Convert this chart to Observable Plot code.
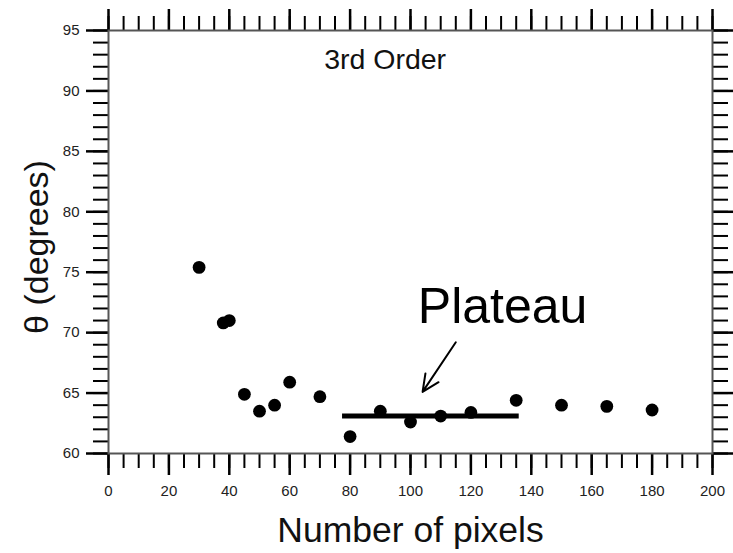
<!DOCTYPE html>
<html>
<head>
<meta charset="utf-8">
<script src="https://cdn.jsdelivr.net/npm/d3@7"></script>
<script src="https://cdn.jsdelivr.net/npm/@observablehq/plot@0.6"></script>
<style>
  html, body { margin: 0; padding: 0; background: #fff; }
  svg { font-family: "Liberation Sans", Arial, sans-serif; }
</style>
</head>
<body>
<div id="chart"></div>
<script>
// Data
const pixels = [30, 38, 40, 45, 50, 55, 60, 70, 80, 90, 100, 110, 120, 135, 150, 165, 180];
const theta  = [75.4, 70.8, 71.0, 64.9, 63.5, 64.0, 65.9, 64.7, 61.4, 63.5, 62.6, 63.1, 63.4, 64.4, 64.0, 63.9, 63.6];

const plateauX = [77.5, 136];
const plateauY = 63.1;
const arrowFrom = [115, 69.2];
const arrowTo = [104, 65.1];

const xMajor = d3.range(0, 201, 20);
const xMinor = d3.range(0, 201, 5);
const yMajor = d3.range(60, 96, 5);
const yMinor = d3.range(60, 96, 1);

const titleText = "3rd Order";
const plateauText = "Plateau";
const xTitle = "Number of pixels";
const yTitle = "θ (degrees)";

const points = pixels.map((p, i) => ({x: p, y: theta[i]}));

const chart = Plot.plot({
  width: 733,
  height: 553,
  marginLeft: 108,
  marginRight: 21,
  marginTop: 30,
  marginBottom: 100,
  style: {fontFamily: "Liberation Sans, Arial, sans-serif", background: "#fff", color: "#000", overflow: "visible"},
  x: {domain: [0, 200]},
  y: {domain: [60, 95]},
  marks: [
    // bottom ticks
    Plot.axisX({anchor: "bottom", ticks: xMinor, tickSize: 15, text: null, strokeWidth: 2, label: null}),
    Plot.axisX({anchor: "bottom", ticks: xMajor, tickSize: 22, text: null, strokeWidth: 2.5, label: null}),
    Plot.axisX({anchor: "bottom", ticks: xMajor, tickSize: 0, tickPadding: 32, fontSize: 15, label: null, fill: "#222"}),
    // top ticks
    Plot.axisX({anchor: "top", ticks: xMinor, tickSize: 15, text: null, strokeWidth: 2, label: null}),
    Plot.axisX({anchor: "top", ticks: xMajor, tickSize: 22, text: null, strokeWidth: 2.5, label: null}),
    // left ticks
    Plot.axisY({anchor: "left", ticks: yMinor, tickSize: 15, text: null, strokeWidth: 2, label: null}),
    Plot.axisY({anchor: "left", ticks: yMajor, tickSize: 22, text: null, strokeWidth: 2.5, label: null}),
    Plot.axisY({anchor: "left", ticks: yMajor, tickSize: 0, tickPadding: 29, fontSize: 15, label: null, fill: "#222"}),
    // right ticks
    Plot.axisY({anchor: "right", ticks: yMinor, tickSize: 15, text: null, strokeWidth: 2, label: null}),
    Plot.axisY({anchor: "right", ticks: yMajor, tickSize: 22, text: null, strokeWidth: 2.5, label: null}),
    Plot.frame({stroke: "#555", strokeWidth: 2}),
    // data
    Plot.dot(points, {x: "x", y: "y", r: 6.4, fill: "#000", stroke: null}),
    Plot.ruleY([plateauY], {x1: plateauX[0], x2: plateauX[1], stroke: "#000", strokeWidth: 5}),
    Plot.arrow([{x1: arrowFrom[0], y1: arrowFrom[1], x2: arrowTo[0], y2: arrowTo[1]}],
      {x1: "x1", y1: "y1", x2: "x2", y2: "y2", stroke: "#000", strokeWidth: 2, headLength: 14, headAngle: 50}),
    // texts
    Plot.text([titleText], {x: 91.6, y: 92.6, text: d => d, fontSize: 28.5, fill: "#111", textAnchor: "middle", lineAnchor: "middle"}),
    Plot.text([plateauText], {x: 130.5, y: 72.1, text: d => d, fontSize: 50, fill: "#000", textAnchor: "middle", lineAnchor: "middle"}),
    Plot.text([xTitle], {frameAnchor: "bottom", dy: 77, text: d => d, fontSize: 35.5, fill: "#111", textAnchor: "middle", lineAnchor: "middle"}),
    Plot.text([yTitle], {frameAnchor: "left", dx: -71, dy: 5, rotate: -90, text: d => d, fontSize: 34, fill: "#111", textAnchor: "middle", lineAnchor: "middle"})
  ]
});
document.getElementById("chart").appendChild(chart);
</script>
</body>
</html>
